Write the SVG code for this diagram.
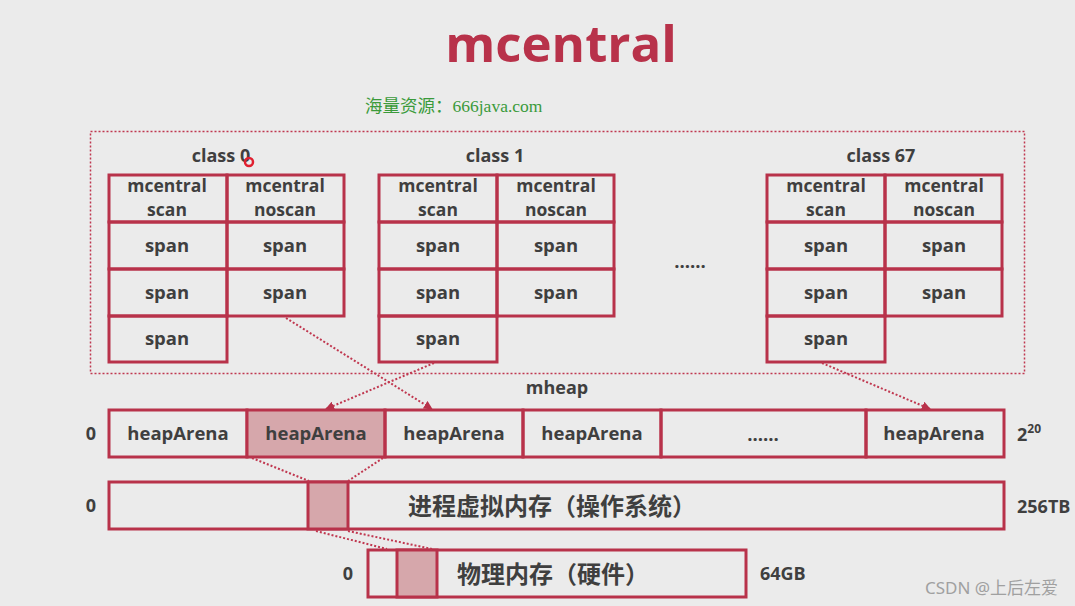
<svg xmlns="http://www.w3.org/2000/svg" width="1075" height="606" viewBox="0 0 1075 606">
<defs>
<style>
.bg{fill:#ebebeb}
.cell{fill:none;stroke:#b8324a;stroke-width:3}
.pink{fill:#d6a7ab;stroke:#b8324a;stroke-width:3}
.t{font-family:"Open Sans","Noto Sans",sans-serif;font-weight:bold;fill:#3f3f3f;text-anchor:middle}
.c{font-size:18.5px}
.h{font-size:17.5px}
.lab{font-size:18px}
.s{text-anchor:start}
.cjk{font-family:"Noto Sans CJK SC",sans-serif;font-weight:bold;fill:#3f3f3f;font-size:24px;text-anchor:middle}
.dot{fill:none;stroke:#c03850;stroke-width:2;stroke-dasharray:2 2}
</style>
<marker id="ah" viewBox="0 0 10 10" refX="9" refY="5" markerWidth="9" markerHeight="9" markerUnits="userSpaceOnUse" orient="auto">
<path d="M0,0 L10,5 L0,10 z" fill="#b8324a"/>
</marker>
</defs>
<rect class="bg" x="0" y="0" width="1075" height="606"/>
<text x="561" y="62" font-family="Open Sans,Noto Sans,sans-serif" font-weight="bold" font-size="51" fill="#b8324a" text-anchor="middle">mcentral</text>
<text x="365" y="112" font-family="Liberation Serif,Noto Sans CJK SC,serif" font-size="17.5" fill="#3a9a3a">海量资源：666java.com</text>

<rect x="90.5" y="131.5" width="934" height="242" fill="none" stroke="#c03850" stroke-width="1.5" stroke-dasharray="2 2"/>

<g id="class0">
<text class="t lab" x="221" y="162">class 0</text>
<circle cx="249" cy="162" r="4" fill="none" stroke="#e02030" stroke-width="2.5"/>
<rect class="cell" x="109" y="175" width="118" height="47"/>
<rect class="cell" x="227" y="175" width="117" height="47"/>
<rect class="cell" x="109" y="222" width="118" height="47"/>
<rect class="cell" x="227" y="222" width="117" height="47"/>
<rect class="cell" x="109" y="269" width="118" height="47"/>
<rect class="cell" x="227" y="269" width="117" height="47"/>
<rect class="cell" x="109" y="316" width="118" height="46"/>
<text class="t h" x="167" y="192">mcentral</text><text class="t h" x="167" y="216">scan</text>
<text class="t h" x="285" y="192">mcentral</text><text class="t h" x="285" y="216">noscan</text>
<text class="t c" x="167" y="252">span</text><text class="t c" x="285" y="252">span</text>
<text class="t c" x="167" y="299">span</text><text class="t c" x="285" y="299">span</text>
<text class="t c" x="167" y="345">span</text>
</g>

<g id="class1">
<text class="t lab" x="495" y="162">class 1</text>
<rect class="cell" x="379" y="175" width="118" height="47"/>
<rect class="cell" x="497" y="175" width="117" height="47"/>
<rect class="cell" x="379" y="222" width="118" height="47"/>
<rect class="cell" x="497" y="222" width="117" height="47"/>
<rect class="cell" x="379" y="269" width="118" height="47"/>
<rect class="cell" x="497" y="269" width="117" height="47"/>
<rect class="cell" x="379" y="316" width="118" height="46"/>
<text class="t h" x="438" y="192">mcentral</text><text class="t h" x="438" y="216">scan</text>
<text class="t h" x="556" y="192">mcentral</text><text class="t h" x="556" y="216">noscan</text>
<text class="t c" x="438" y="252">span</text><text class="t c" x="556" y="252">span</text>
<text class="t c" x="438" y="299">span</text><text class="t c" x="556" y="299">span</text>
<text class="t c" x="438" y="345">span</text>
</g>

<text class="t c" x="690" y="268">......</text>

<g id="class67">
<text class="t lab" x="881" y="162">class 67</text>
<rect class="cell" x="767" y="175" width="118" height="47"/>
<rect class="cell" x="885" y="175" width="117" height="47"/>
<rect class="cell" x="767" y="222" width="118" height="47"/>
<rect class="cell" x="885" y="222" width="117" height="47"/>
<rect class="cell" x="767" y="269" width="118" height="47"/>
<rect class="cell" x="885" y="269" width="117" height="47"/>
<rect class="cell" x="767" y="316" width="118" height="46"/>
<text class="t h" x="826" y="192">mcentral</text><text class="t h" x="826" y="216">scan</text>
<text class="t h" x="944" y="192">mcentral</text><text class="t h" x="944" y="216">noscan</text>
<text class="t c" x="826" y="252">span</text><text class="t c" x="944" y="252">span</text>
<text class="t c" x="826" y="299">span</text><text class="t c" x="944" y="299">span</text>
<text class="t c" x="826" y="345">span</text>
</g>

<g id="mheap">
<text class="t lab" x="557" y="394">mheap</text>
<text class="t lab" x="91" y="440">0</text>
<rect class="cell" x="109" y="410" width="138" height="47"/>
<rect class="pink" x="247" y="410" width="138" height="47"/>
<rect class="cell" x="385" y="410" width="138" height="47"/>
<rect class="cell" x="523" y="410" width="138" height="47"/>
<rect class="cell" x="661" y="410" width="205" height="47"/>
<rect class="cell" x="866" y="410" width="138" height="47"/>
<text class="t c" x="178" y="440">heapArena</text>
<text class="t c" x="316" y="440">heapArena</text>
<text class="t c" x="454" y="440">heapArena</text>
<text class="t c" x="592" y="440">heapArena</text>
<text class="t c" x="763" y="441">......</text>
<text class="t c" x="934" y="440">heapArena</text>
<text class="t lab s" x="1017" y="441">2<tspan font-size="12" dy="-8">20</tspan></text>
</g>

<g id="virtual">
<text class="t lab" x="91" y="512">0</text>
<rect class="cell" x="109" y="482" width="895" height="47"/>
<rect class="pink" x="308" y="482" width="40" height="47"/>
<text class="cjk" x="552" y="515">进程虚拟内存（操作系统）</text>
<text class="t lab s" x="1017" y="513">256TB</text>
</g>

<g id="physical">
<text class="t lab" x="348" y="580">0</text>
<rect class="cell" x="368" y="550" width="378" height="47"/>
<rect class="pink" x="397" y="550" width="40" height="47"/>
<text class="cjk" x="553" y="583">物理内存（硬件）</text>
<text class="t lab s" x="760" y="580">64GB</text>
</g>

<g id="connectors">
<line class="dot" x1="286" y1="318" x2="432" y2="409" marker-end="url(#ah)"/>
<line class="dot" x1="434" y1="363" x2="326" y2="409" marker-end="url(#ah)"/>
<line class="dot" x1="822" y1="363" x2="930" y2="409" marker-end="url(#ah)"/>
<line class="dot" x1="252" y1="458" x2="309" y2="481"/>
<line class="dot" x1="383" y1="458" x2="348" y2="481"/>
<line class="dot" x1="316" y1="531" x2="387" y2="549"/>
<line class="dot" x1="348" y1="531" x2="432" y2="549"/>
</g>

<text x="925" y="594" font-family="Noto Sans,Noto Sans CJK SC,sans-serif" font-size="17" fill="#a0a0a0">CSDN @上后左爱</text>
</svg>
